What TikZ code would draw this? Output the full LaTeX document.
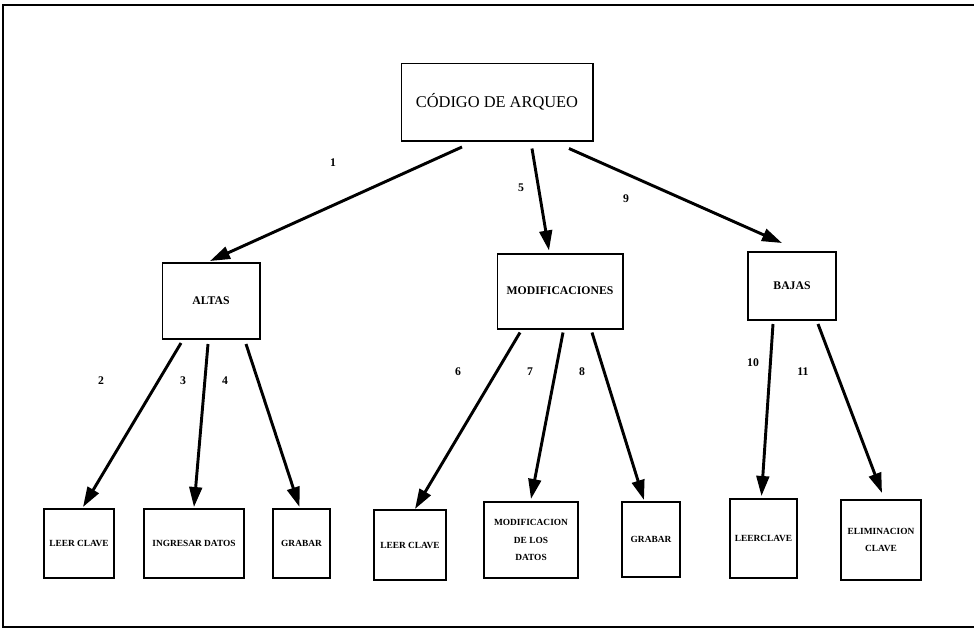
\documentclass[tikz,border=0pt]{standalone}
\usepackage{fontspec}
\setmainfont{Liberation Serif}
\usetikzlibrary{arrows.meta,calc}

\begin{document}
\begin{tikzpicture}[x=0.03cm,y=-0.03cm,
  box/.style={draw,line width=1.7pt,inner sep=0.5pt,align=center,font=\fontsize{10}{12}\selectfont\bfseries},
  leaf/.style={box,font=\fontsize{8}{15}\selectfont\bfseries},
  arrow/.style={-{Triangle[length=6mm,width=3.8mm]},line width=2.5pt},
  num/.style={font=\fontsize{10}{12}\selectfont\bfseries}
]
\useasboundingbox (0,0) rectangle (974,634);
\draw[line width=1.6pt] (974,5) -- (3,5) -- (3,627) -- (974,627);
% raiz y modulos
\node[box,minimum width=5.73cm,minimum height=2.31cm,font=\fontsize{14}{16}\selectfont] (arqueo) at (497,102) {CÓDIGO DE ARQUEO};
\node[box,minimum width=2.91cm,minimum height=2.28cm] (altas) at (211,301) {ALTAS};
\node[box,minimum width=3.75cm,minimum height=2.25cm] (modif) at (560,291) {MODIFICACIONES};
\node[box,minimum width=2.64cm,minimum height=2.04cm] (bajas) at (792,286) {BAJAS};
% hojas
\node[leaf,minimum width=2.1cm,minimum height=2.07cm] (leer1) at (79,543.5) {LEER CLAVE};
\node[leaf,minimum width=3.0cm,minimum height=2.07cm] (ingresar) at (194,543.5) {INGRESAR DATOS};
\node[leaf,minimum width=1.71cm,minimum height=2.07cm] (grabar1) at (301.5,543.5) {GRABAR};
\node[leaf,minimum width=2.16cm,minimum height=2.1cm] (leer2) at (410,545) {LEER CLAVE};
\node[leaf,minimum width=2.82cm,minimum height=2.28cm] (moddatos) at (531,540) {MODIFICACION\\DE LOS\\DATOS};
\node[leaf,minimum width=1.74cm,minimum height=2.25cm] (grabar2) at (651,539.5) {GRABAR};
\node[leaf,minimum width=2.01cm,minimum height=2.37cm] (leer3) at (763.5,538.5) {LEERCLAVE};
\node[leaf,minimum width=2.4cm,minimum height=2.4cm] (elimina) at (881,540) {ELIMINACION\\CLAVE};
% flechas
\draw[arrow] ($(arqueo.south)+(-35,5.5)$) -- ($(altas.north)+(-1,-1)$);
\draw[arrow] ($(arqueo.south)+(35,7)$) -- ($(modif.north)+(-11,-2)$);
\draw[arrow] ($(arqueo.south)+(72,7)$) -- ($(bajas.north)+(-10,-8)$);
\draw[arrow] ($(altas.south)+(-30,3)$) -- ($(leer1.north)+(4,-1)$);
\draw[arrow] ($(altas.south)+(-3,4)$) -- ($(ingresar.north)+(0,-1)$);
\draw[arrow] ($(altas.south)+(35,4)$) -- ($(grabar1.north)+(-2,-1)$);
\draw[arrow] ($(modif.south)+(-40,3)$) -- ($(leer2.north)+(5,0)$);
\draw[arrow] ($(modif.south)+(3,3)$) -- ($(moddatos.north)+(0,-2)$);
\draw[arrow] ($(modif.south)+(32,3)$) -- ($(grabar2.north)+(-7,-1)$);
\draw[arrow] ($(bajas.south)+(-19,3)$) -- ($(leer3.north)+(-2,-2)$);
\draw[arrow] ($(bajas.south)+(26,3)$) -- ($(elimina.north)+(1,-6)$);
% numeros
\node[num] (n1) at (333,163) {1};
\node[num] (n5) at (521,188) {5};
\node[num] (n9) at (626,199) {9};
\node[num] (n2) at (101,381) {2};
\node[num] (n3) at (183,381) {3};
\node[num] (n4) at (225,381) {4};
\node[num] (n6) at (458,372) {6};
\node[num] (n7) at (530,372) {7};
\node[num] (n8) at (582,372) {8};
\node[num] (n10) at (753,363) {10};
\node[num] (n11) at (803,372) {11};
\end{tikzpicture}
\end{document}
